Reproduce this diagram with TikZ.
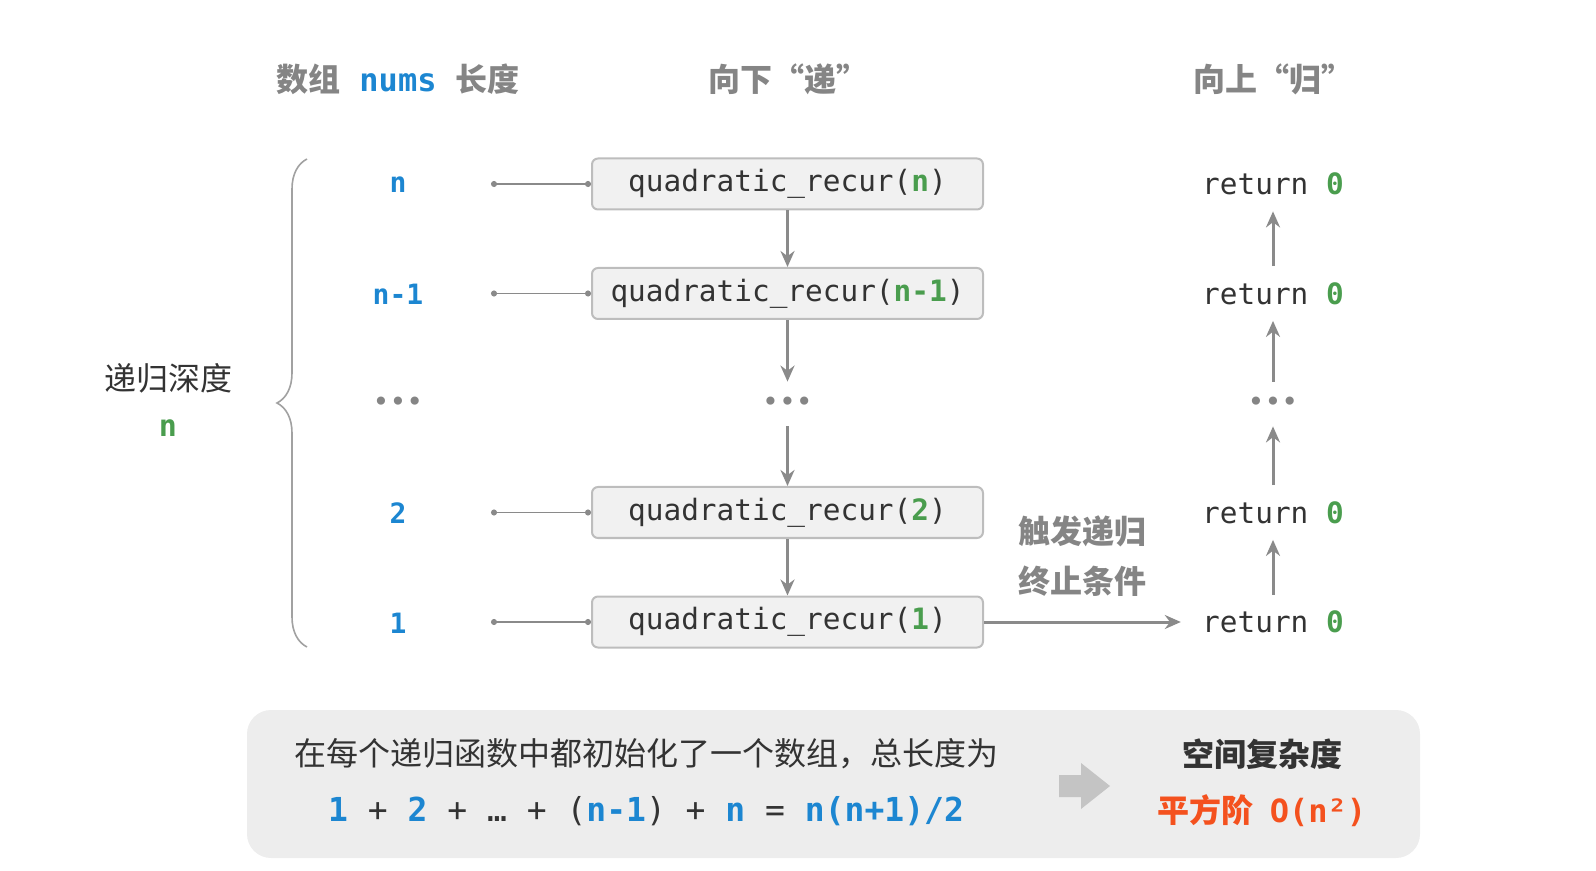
\documentclass[tikz,border=0pt]{standalone}
\usepackage{fontspec}
\setmainfont{Noto Sans CJK SC}
\setmonofont{DejaVu Sans Mono}
\usepackage{xcolor}
\definecolor{ink}{HTML}{333333}
\definecolor{mute}{HTML}{858585}
\definecolor{wire}{HTML}{8A8A8A}
\definecolor{boxfill}{HTML}{F1F1F1}
\definecolor{boxline}{HTML}{BDBDBD}
\definecolor{panel}{HTML}{EDEDED}
\definecolor{depth}{HTML}{1C86D1}
\definecolor{arg}{HTML}{4A9D4E}
\definecolor{hot}{HTML}{F4511E}
\usepackage{tikz}
\usetikzlibrary{arrows.meta, positioning, decorations.pathreplacing}
\tikzset{
  >={Stealth[length=8pt, width=7pt]},
  call/.style={draw=boxline, fill=boxfill, rounded corners=3pt, line width=1pt,
    minimum width=195.5pt, minimum height=25.5pt, inner sep=0pt,
    font=\ttfamily\fontsize{14.7}{17}\selectfont, text=ink},
  ret/.style={minimum height=27pt, inner xsep=10.5pt, inner ysep=0pt,
    font=\ttfamily\fontsize{14.7}{17}\selectfont, text=ink},
  lvl/.style={font=\ttfamily\bfseries\fontsize{14}{17}\selectfont, text=depth},
  gap/.style={minimum height=22pt, inner sep=0pt, font=\ttfamily\fontsize{14}{16}\selectfont, text=mute},
  head/.style={font=\bfseries\fontsize{16}{19}\selectfont, text=mute},
  flow/.style={->, line width=1.5pt, color=wire},
  tick/.style={{Circle[length=3pt]}-{Circle[length=3pt]}, line width=0.8pt, color=wire},
}

\begin{document}
\begin{tikzpicture}[x=0.5pt, y=-0.5pt,
    txt/.style={font=\fontsize{16}{19}\selectfont, text=ink},
    sum/.style={font=\ttfamily\fontsize{16.5}{19}\selectfont, text=ink},
    brace/.style={decorate, decoration={brace, amplitude=15pt}, line width=0.8pt, color=boxline!85!black}]
  \useasboundingbox (0,0) rectangle (1596,871);
  % column headings
  \node[head] (h0) at (398,79) {数组\hspace{0.6em}{\ttfamily\color{depth}nums}\hspace{0.6em}长度};
  \node[head] (h1) at (788,79) {向下“递”};
  \node[head] (h2) at (1273,79) {向上“归”};
  % one row per depth: label, call box, return value
  \foreach \i/\k [evaluate=\i as \y using 184+109.5*\i] in {0/n, 1/n-1, 3/2, 4/1} {
    \node[lvl] (l\i) at (398,\y+1) {\k};
    \coordinate (t\i) at (491,\y);
    \node[call] (c\i) at (787.5,\y) {quadratic\_recur({\bfseries\color{arg}\k})};
    \node[ret] (r\i) at (1273,\y) {return {\bfseries\color{arg}0}};
    \draw[tick] (t\i) -- (c\i.west);
  }
  % the elided middle row
  \node[gap] (l2) at (398,404) {•••};
  \node[gap] (c2) at (787.5,404) {•••};
  \node[gap] (r2) at (1273,404) {•••};
  % calls go down, returns come back up
  \foreach \a/\b in {0/1, 1/2, 2/3, 3/4} {
    \draw[flow] (c\a.south) -- (c\b.north);
    \draw[flow] (r\b.north) -- (r\a.south);
  }
  \draw[flow] (c4.east) -- (r4.west);
  \node[head, align=center, font=\bfseries\fontsize{16}{25}\selectfont] (stop) at (1082,556) {触发递归\\终止条件};
  % recursion depth brace
  \draw[brace] (307,647) -- (307,159);
  \node[txt] (dl) at (168,378) {递归深度};
  \node[font=\ttfamily\bfseries\fontsize{15}{17}\selectfont, text=arg] (dn) at (168,428) {n};
  % summary panel
  \node[fill=panel, rounded corners=12pt, minimum width=586.5pt, minimum height=74pt] (panel) at (833.5,784) {};
  \node[txt] (why) at (646,754) {在每个递归函数中都初始化了一个数组，总长度为};
  \node[sum] (total) at (646,811) {{\bfseries\color{depth}1} + {\bfseries\color{depth}2} + … + ({\bfseries\color{depth}n-1}) + {\bfseries\color{depth}n} = {\bfseries\color{depth}n(n+1)/2}};
  \fill[boxline!90!white] (1059,775) -- (1081,775) -- (1081,763) -- (1110,786) -- (1081,809) -- (1081,797) -- (1059,797) -- cycle;
  \node[txt, font=\bfseries\fontsize{16}{19}\selectfont] (cx) at (1262,754) {空间复杂度};
  \node[txt, font=\bfseries\fontsize{16}{19}\selectfont, text=hot] (order) at (1262,811) {平方阶\hspace{0.5em}{\ttfamily O(n²)}};
\end{tikzpicture}
\end{document}
